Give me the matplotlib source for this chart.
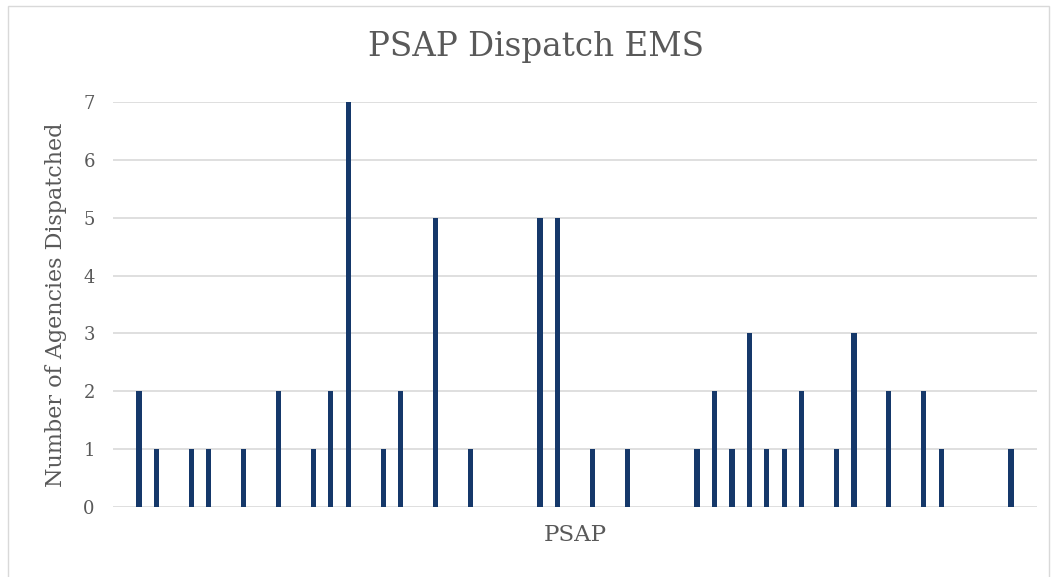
import matplotlib.pyplot as plt
from matplotlib.patches import Rectangle

# agencies dispatched per PSAP (53 PSAPs, left to right)
counts = [0, 2, 1, 0, 1, 1, 0, 1, 0, 2, 0, 1, 2, 7, 0, 1, 2, 0, 5, 0,
          1, 0, 0, 0, 5, 5, 0, 1, 0, 1, 0, 0, 0, 1, 2, 1, 3, 1, 1, 2,
          0, 1, 3, 0, 2, 0, 2, 1, 0, 0, 0, 1, 0]
psap = list(range(len(counts)))
y_ticks = [0, 1, 2, 3, 4, 5, 6, 7]

plt.rcParams['font.family'] = ['DejaVu Serif']

fig = plt.figure(figsize=(10.55, 5.77), dpi=100)
ax = fig.add_axes([0.107, 0.1213, 0.876, 0.7019])

ax.bar(psap, counts, width=0.3, color='#15386a', zorder=3)
ax.set_xlim(-0.5, len(counts) - 0.5)
ax.set_ylim(0, 7)
ax.set_yticks(y_ticks)
ax.set_xticks([])
ax.grid(axis='y', color='#d9d9d9', linewidth=1.2, zorder=0)
for s in ax.spines.values():
    s.set_visible(False)
ax.tick_params(axis='y', length=0, pad=13, labelsize=13, labelcolor='#595959')

fig.text(0.508, 0.918, 'PSAP Dispatch EMS', fontsize=23.5, color='#595959',
         ha='center', va='center')
ax.set_xlabel('PSAP', fontsize=16.5, color='#595959', labelpad=12)
ax.set_ylabel('Number of Agencies Dispatched', fontsize=16, color='#595959', labelpad=12)

fig.patches.append(Rectangle((0.008, -0.01), 0.986, 1.0, transform=fig.transFigure,
                             fill=False, edgecolor='#d9d9d9', linewidth=1))

fig.savefig('out.png', dpi=100)
